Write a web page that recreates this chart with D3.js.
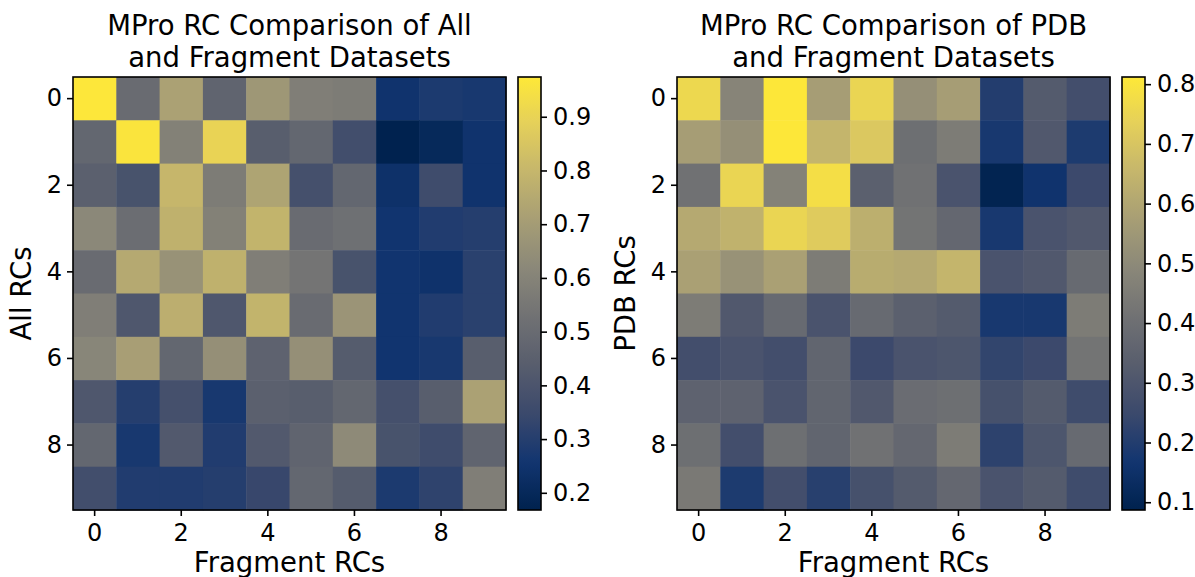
<!DOCTYPE html>
<html>
<head>
<meta charset="utf-8">
<script src="https://cdn.jsdelivr.net/npm/d3@7"></script>
<style>
  html, body { margin: 0; padding: 0; background: #fff; }
  svg { display: block; font-family: "DejaVu Sans", sans-serif; }
</style>
</head>
<body>
<svg id="chart" width="1195" height="577"></svg>
<script>
// Row/column indices of the reaction-coordinate comparison matrices
const rcIndex = [0, 1, 2, 3, 4, 5, 6, 7, 8, 9];
const axisTicks = [0, 2, 4, 6, 8];

// All RCs (rows) vs Fragment RCs (columns)
const allVsFragment = [
  [0.97, 0.50, 0.72, 0.47, 0.68, 0.58, 0.57, 0.25, 0.28, 0.27],
  [0.48, 0.96, 0.59, 0.90, 0.44, 0.48, 0.37, 0.17, 0.20, 0.25],
  [0.45, 0.39, 0.80, 0.57, 0.73, 0.38, 0.48, 0.24, 0.36, 0.25],
  [0.62, 0.51, 0.78, 0.59, 0.79, 0.50, 0.52, 0.255, 0.29, 0.30],
  [0.50, 0.75, 0.66, 0.78, 0.58, 0.54, 0.39, 0.255, 0.245, 0.31],
  [0.58, 0.41, 0.77, 0.41, 0.79, 0.50, 0.67, 0.255, 0.29, 0.31],
  [0.61, 0.71, 0.48, 0.65, 0.46, 0.65, 0.43, 0.255, 0.27, 0.44],
  [0.41, 0.30, 0.38, 0.27, 0.45, 0.44, 0.48, 0.38, 0.44, 0.72],
  [0.48, 0.27, 0.42, 0.29, 0.42, 0.47, 0.63, 0.39, 0.36, 0.47],
  [0.37, 0.29, 0.29, 0.30, 0.34, 0.48, 0.43, 0.28, 0.32, 0.58]
];

// PDB RCs (rows) vs Fragment RCs (columns)
const pdbVsFragment = [
  [0.76, 0.48, 0.81, 0.57, 0.75, 0.52, 0.57, 0.20, 0.32, 0.27],
  [0.57, 0.52, 0.81, 0.65, 0.71, 0.40, 0.45, 0.18, 0.31, 0.19],
  [0.41, 0.75, 0.47, 0.78, 0.34, 0.41, 0.29, 0.095, 0.16, 0.25],
  [0.61, 0.64, 0.75, 0.72, 0.63, 0.42, 0.37, 0.18, 0.29, 0.31],
  [0.58, 0.53, 0.58, 0.45, 0.62, 0.61, 0.65, 0.29, 0.31, 0.38],
  [0.45, 0.31, 0.38, 0.29, 0.38, 0.34, 0.32, 0.18, 0.18, 0.45],
  [0.27, 0.29, 0.27, 0.36, 0.25, 0.29, 0.30, 0.23, 0.25, 0.42],
  [0.35, 0.35, 0.29, 0.36, 0.31, 0.39, 0.40, 0.28, 0.32, 0.26],
  [0.40, 0.27, 0.40, 0.36, 0.41, 0.37, 0.45, 0.22, 0.30, 0.38],
  [0.44, 0.19, 0.27, 0.21, 0.28, 0.32, 0.37, 0.29, 0.32, 0.26]
];

// Colour ranges and colourbar ticks
const allRange = [0.168, 0.974];
const allBarTicks = [0.2, 0.3, 0.4, 0.5, 0.6, 0.7, 0.8, 0.9];
const pdbRange = [0.087, 0.812];
const pdbBarTicks = [0.1, 0.2, 0.3, 0.4, 0.5, 0.6, 0.7, 0.8];

// cividis colour stops, evenly spaced from 0 to 1
const cividisStops = ["#00224e", "#123570", "#3b496c", "#575d6d", "#707173",
                      "#8a8779", "#a69d75", "#c4b56c", "#e4cf5b", "#fee838"];
const cividis = d3.piecewise(d3.interpolateRgb, cividisStops);

const panels = [
  { id: "all", left: 73, title: ["MPro RC Comparison of All", "and Fragment Datasets"],
    ylabel: "All RCs", data: allVsFragment, range: allRange, barTicks: allBarTicks },
  { id: "pdb", left: 677, title: ["MPro RC Comparison of PDB", "and Fragment Datasets"],
    ylabel: "PDB RCs", data: pdbVsFragment, range: pdbRange, barTicks: pdbBarTicks }
];

const svg = d3.select("#chart");
const plotTop = 77, size = 433;
const barGap = 12, barW = 23;
const tickFont = 24, labelFont = 27.5;
const defs = svg.append("defs");

function styleAxis(a) {
  a.select(".domain").remove();
  a.selectAll(".tick line").attr("stroke", "#000").attr("stroke-width", 1.6);
  a.selectAll(".tick text").attr("font-size", tickFont).attr("fill", "#000")
    .attr("font-family", "DejaVu Sans, sans-serif");
}

panels.forEach(p => {
  const g = svg.append("g").attr("transform", `translate(${p.left},${plotTop})`);
  const x = d3.scaleBand().domain(rcIndex).range([0, size]);
  const y = d3.scaleBand().domain(rcIndex).range([0, size]);
  const color = d3.scaleSequential(cividis).domain(p.range).clamp(true);

  // cells
  const cells = [];
  p.data.forEach((row, r) => row.forEach((v, c) => cells.push({ r, c, v })));
  g.selectAll("rect.cell").data(cells).join("rect")
    .attr("class", "cell")
    .attr("x", d => x(d.c)).attr("y", d => y(d.r))
    .attr("width", x.bandwidth() + 0.5).attr("height", y.bandwidth() + 0.5)
    .attr("fill", d => color(d.v));

  // frame
  g.append("rect").attr("width", size).attr("height", size)
    .attr("fill", "none").attr("stroke", "#000").attr("stroke-width", 1.6);

  // axes
  const gx = g.append("g").attr("transform", `translate(0,${size})`)
    .call(d3.axisBottom(x).tickValues(axisTicks).tickSize(6).tickPadding(8));
  const gy = g.append("g")
    .call(d3.axisLeft(y).tickValues(axisTicks).tickSize(6).tickPadding(5));
  styleAxis(gx);
  styleAxis(gy);

  // axis labels
  g.append("text").attr("x", size / 2).attr("y", size + 62)
    .attr("text-anchor", "middle").attr("font-size", labelFont).text("Fragment RCs");
  g.append("text").attr("transform", `translate(-42,${size / 2}) rotate(-90)`)
    .attr("text-anchor", "middle").attr("font-size", labelFont).text(p.ylabel);

  // title
  const t = g.append("text").attr("text-anchor", "middle").attr("font-size", labelFont);
  p.title.forEach((line, i) => {
    t.append("tspan").attr("x", size / 2).attr("y", -42 + i * 32).text(line);
  });

  // colourbar
  const gradId = "grad-" + p.id;
  const grad = defs.append("linearGradient").attr("id", gradId)
    .attr("x1", 0).attr("y1", 1).attr("x2", 0).attr("y2", 0);
  d3.range(0, 1.0001, 0.02).forEach(s => {
    grad.append("stop").attr("offset", s).attr("stop-color", cividis(s));
  });
  const cb = g.append("g").attr("transform", `translate(${size + barGap},0)`);
  cb.append("rect").attr("width", barW).attr("height", size).attr("fill", `url(#${gradId})`);
  cb.append("rect").attr("width", barW).attr("height", size)
    .attr("fill", "none").attr("stroke", "#000").attr("stroke-width", 1.6);
  const cbScale = d3.scaleLinear().domain(p.range).range([size, 0]);
  const cbAxis = cb.append("g").attr("transform", `translate(${barW},0)`)
    .call(d3.axisRight(cbScale).tickValues(p.barTicks).tickFormat(d3.format(".1f"))
      .tickSize(6).tickPadding(6));
  styleAxis(cbAxis);
});
</script>
</body>
</html>
